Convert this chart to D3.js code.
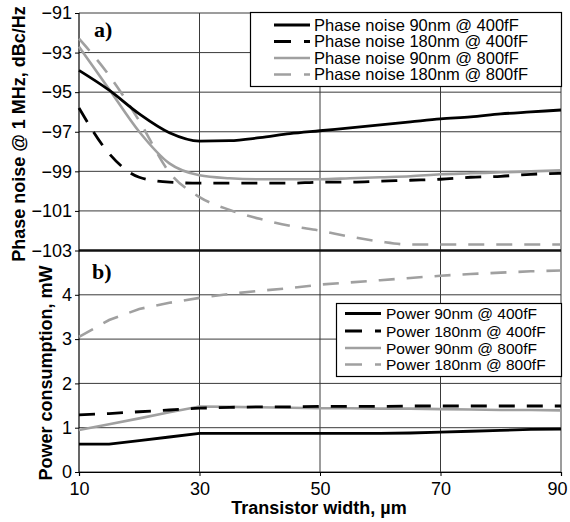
<!DOCTYPE html>
<html><head><meta charset="utf-8">
<script src="https://cdn.jsdelivr.net/npm/d3@7/dist/d3.min.js"></script>
<style>
body{margin:0;background:#fff;}
svg{display:block;font-family:"Liberation Sans",Arial,sans-serif;}
</style></head>
<body><svg id="c" width="570" height="522"></svg>
<script>
const widths = [10,15,20,25,30,35,40,45,50,55,60,65,70,75,80,85,90];
const pn90_400  = [-93.9,-94.9,-96.1,-97.05,-97.47,-97.45,-97.3,-97.1,-96.95,-96.8,-96.65,-96.5,-96.35,-96.25,-96.1,-96.0,-95.9];
const pn180_400 = [-95.8,-98.1,-99.3,-99.55,-99.6,-99.6,-99.6,-99.6,-99.55,-99.55,-99.5,-99.45,-99.4,-99.3,-99.25,-99.15,-99.1];
const pn90_800  = [-92.7,-94.85,-97.0,-98.6,-99.2,-99.35,-99.4,-99.4,-99.4,-99.35,-99.3,-99.25,-99.15,-99.1,-99.05,-99.0,-98.95];
const pn180_800 = [-92.3,-94.15,-96.45,-99.05,-100.3,-100.95,-101.4,-101.75,-102.0,-102.3,-102.55,-102.7,-102.7,-102.7,-102.7,-102.7,-102.7];
const pw90_400  = [0.63,0.63,0.71,0.79,0.87,0.87,0.87,0.87,0.87,0.87,0.87,0.88,0.9,0.92,0.94,0.96,0.97];
const pw180_400 = [1.29,1.32,1.36,1.40,1.44,1.46,1.47,1.47,1.48,1.48,1.48,1.49,1.49,1.49,1.49,1.49,1.49];
const pw90_800  = [0.95,1.08,1.21,1.35,1.48,1.47,1.46,1.45,1.44,1.44,1.43,1.43,1.42,1.41,1.40,1.40,1.39];
const pw180_800 = [3.05,3.43,3.68,3.82,3.93,4.02,4.09,4.15,4.23,4.28,4.33,4.38,4.43,4.47,4.50,4.53,4.55];
const xTicks = [10,30,50,70,90];
const pnTicks = [-91,-93,-95,-97,-99,-101,-103];
const pwTicks = [0,1,2,3,4];
const pnLabels = ["Phase noise 90nm @ 400fF","Phase noise 180nm @ 400fF","Phase noise 90nm @ 800fF","Phase noise 180nm @ 800fF"];
const pwLabels = ["Power 90nm @ 400fF","Power 180nm @ 400fF","Power 90nm @ 800fF","Power 180nm @ 800fF"];

const styles = [
  {color:"#000", w:2.8, dash:null},
  {color:"#000", w:2.8, dash:"16,12"},
  {color:"#a0a0a0", w:2.6, dash:null},
  {color:"#a0a0a0", w:2.6, dash:"16,12"}
];

const svg = d3.select("#c");
const x = d3.scaleLinear().domain([10,90]).range([79,561]);
const yT = d3.scaleLinear().domain([-103,-91]).range([250.5,13]);
const yB = d3.scaleLinear().domain([0,5]).range([472,250.5]);
const gridC = "#3a3a3a";

// grid
const g = svg.append("g");
[30,50,70,90].forEach(v=>g.append("line").attr("x1",x(v)).attr("x2",x(v)).attr("y1",yT(-91)).attr("y2",yB(0)).attr("stroke",gridC).attr("stroke-width",1));
pnTicks.forEach(v=>g.append("line").attr("x1",x(10)).attr("x2",x(90)).attr("y1",yT(v)).attr("y2",yT(v)).attr("stroke",gridC).attr("stroke-width",1));
pwTicks.forEach(v=>g.append("line").attr("x1",x(10)).attr("x2",x(90)).attr("y1",yB(v)).attr("y2",yB(v)).attr("stroke",gridC).attr("stroke-width",1));
g.append("line").attr("x1",x(10)).attr("x2",x(90)).attr("y1",yT(-103)).attr("y2",yT(-103)).attr("stroke","#111").attr("stroke-width",2.5);

// axes
const axT = svg.append("g").attr("transform",`translate(${x(10)},0)`)
  .call(d3.axisLeft(yT).tickValues(pnTicks).tickSize(4).tickPadding(3).tickFormat(d3.format("d")));
const axB = svg.append("g").attr("transform",`translate(${x(10)},0)`)
  .call(d3.axisLeft(yB).tickValues(pwTicks).tickSize(4).tickPadding(3).tickFormat(d3.format("d")));
const axX = svg.append("g").attr("transform",`translate(0,${yB(0)})`)
  .call(d3.axisBottom(x).tickValues(xTicks).tickSize(4).tickPadding(3).tickFormat(d3.format("d")));
[axT,axB,axX].forEach(a=>{
  a.selectAll("path.domain").attr("stroke","#000").attr("stroke-width",1.2);
  a.selectAll("line").attr("stroke","#000");
  a.selectAll("text").attr("font-size",18).attr("fill","#000").attr("font-family","'Liberation Sans',Arial,sans-serif");
});
axT.select("path.domain").remove();
axB.select("path.domain").remove();
svg.append("line").attr("x1",x(10)).attr("x2",x(10)).attr("y1",yT(-91)).attr("y2",yB(0)).attr("stroke","#000").attr("stroke-width",1.2);
axX.selectAll("text").attr("dy","0.9em");
axX.selectAll(".tick").filter(d=>d===90).select("text").attr("x",-4);

// series
const lineT = d3.line().x((d,i)=>x(widths[i])).y(d=>yT(d)).curve(d3.curveMonotoneX);
const lineB = d3.line().x((d,i)=>x(widths[i])).y(d=>yB(d)).curve(d3.curveLinear);
const pnData = [pn90_400,pn180_400,pn90_800,pn180_800];
const pwData = [pw90_400,pw180_400,pw90_800,pw180_800];
[2,3,0,1].forEach(i=>{
  svg.append("path").attr("d",lineT(pnData[i])).attr("fill","none")
    .attr("stroke",styles[i].color).attr("stroke-width",styles[i].w)
    .attr("stroke-dasharray",styles[i].dash);
});
[3,2,0,1].forEach(i=>{
  svg.append("path").attr("d",lineB(pwData[i])).attr("fill","none")
    .attr("stroke",styles[i].color).attr("stroke-width",styles[i].w)
    .attr("stroke-dasharray",styles[i].dash);
});

// legends
function legend(x0,y0,w,h,lineX,textX,rowY,labels,fs){
  const lg = svg.append("g");
  lg.append("rect").attr("x",x0).attr("y",y0).attr("width",w).attr("height",h)
    .attr("fill","#fff").attr("stroke","#000").attr("stroke-width",1.2);
  labels.forEach((t,i)=>{
    const yy = rowY[i];
    lg.append("line").attr("x1",lineX[0]).attr("x2",lineX[1]).attr("y1",yy).attr("y2",yy)
      .attr("stroke",styles[i].color).attr("stroke-width",styles[i].w)
      .attr("stroke-dasharray",styles[i].dash ? "17,13" : null);
    lg.append("text").attr("x",textX).attr("y",yy).attr("dy","0.36em")
      .attr("font-size",fs).attr("fill","#000").text(t);
  });
}
legend(250.5,12.5,311,74,[274,310],314,[25,41.5,58,74.5],pnLabels,16.5);
legend(336.5,303.5,225,73,[345,381],386,[313.5,331,348,364.5],pwLabels,15.5);

// panel labels
svg.append("text").attr("x",94).attr("y",37).attr("font-family","'Liberation Serif','Times New Roman',serif")
  .attr("font-weight","bold").attr("font-size",22).text("a)");
svg.append("text").attr("x",92).attr("y",279).attr("font-family","'Liberation Serif','Times New Roman',serif")
  .attr("font-weight","bold").attr("font-size",22).text("b)");

// axis titles
svg.append("text").attr("x",319).attr("y",514).attr("text-anchor","middle")
  .attr("font-weight","bold").attr("font-size",18).text("Transistor  width, \u00b5m");
svg.append("text").attr("transform","translate(25,134) rotate(-90)").attr("text-anchor","middle")
  .attr("font-weight","bold").attr("font-size",18).text("Phase noise @ 1 MHz, dBc/Hz");
svg.append("text").attr("transform","translate(52,373) rotate(-90)").attr("text-anchor","middle")
  .attr("font-weight","bold").attr("font-size",18).text("Power consumption, mW");
</script></body></html>
